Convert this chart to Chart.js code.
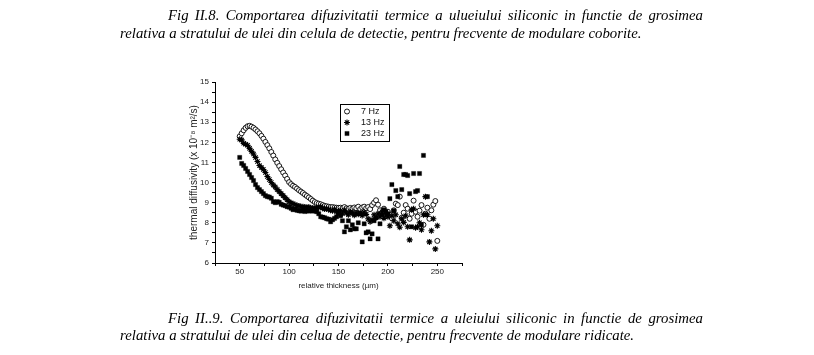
<!DOCTYPE html>
<html><head><meta charset="utf-8">
<script src="https://cdn.jsdelivr.net/npm/chart.js@4/dist/chart.umd.min.js"></script>
<style>
html,body{margin:0;padding:0;background:#fff;}
#wrap{position:relative;width:814px;height:355px;overflow:hidden;background:#fff;}
canvas{position:absolute;left:0;top:0;}
.cap{position:absolute;font-family:"Liberation Serif","DejaVu Serif",serif;font-style:italic;font-size:14.8px;color:#000;white-space:nowrap;line-height:16px;}
.j{text-align:justify;text-align-last:justify;white-space:normal;}
</style></head>
<body><div id="wrap">
<canvas id="c" width="814" height="355"></canvas>
<div class="cap j" id="c1a" style="left:168px;top:7px;width:535px"></div>
<div class="cap" id="c1b" style="left:120px;top:25px"></div>
<div class="cap j" id="c2a" style="left:168px;top:310px;width:535px"></div>
<div class="cap" id="c2b" style="left:120px;top:327px"></div>
</div>
<script>
const caption1 = ["Fig II.8. Comportarea difuzivitatii termice a ulueiului siliconic in functie de grosimea",
                  "relativa a stratului de ulei din celula de detectie, pentru frecvente de modulare coborite."];
const caption2 = ["Fig II..9. Comportarea difuzivitatii termice a uleiului siliconic in functie de grosimea",
                  "relativa a stratului de ulei din celua de detectie, pentru frecvente de modulare ridicate."];
const xTitle = "relative thickness (\u00b5m)";
const yTitle = "thermal diffusivity (x 10\u207b\u2078 m\u00b2/s)";
const seriesLabels = ["7 Hz", "13 Hz", "23 Hz"];

const xTicks = [25,50,75,100,125,150,175,200,225,250,275];
const xTickLabels = ["","50","","100","","150","","200","","250",""];
const yTicks = [6,6.5,7,7.5,8,8.5,9,9.5,10,10.5,11,11.5,12,12.5,13,13.5,14,14.5,15];
const yTickLabels = ["6","","7","","8","","9","","10","","11","","12","","13","","14","","15"];

const thickness = [50,52,54,56,58,60,62,64,66,68,70,72,74,76,78,80,82,84,86,88,
  90,92,94,96,98,100,102,104,106,108,110,112,114,116,118,120,122,124,126,128,
  130,132,134,136,138,140,142,144,146,148,150,152,154,156,158,160,162,164,166,168,
  170,172,174,176,178,180,182,184,186,188,190,192,194,196,198,200,202,204,206,208,
  210,212,214,216,218,220,222,224,226,228,230,232,234,236,238,240,242,244,246,248,250];

const hz7 = [12.30,12.45,12.60,12.72,12.80,12.82,12.78,12.72,12.64,12.55,
  12.45,12.32,12.18,12.02,11.86,11.70,11.52,11.34,11.15,10.98,
  10.82,10.66,10.50,10.35,10.18,10.02,9.92,9.84,9.78,9.70,
  9.62,9.55,9.48,9.40,9.33,9.26,9.18,9.10,9.03,8.98,
  8.95,8.92,8.88,8.84,8.82,8.80,8.78,8.78,8.76,8.75,
  8.74,8.75,8.72,8.78,8.72,8.70,8.74,8.70,8.76,8.72,
  8.80,8.68,8.76,8.80,8.72,8.78,8.68,8.88,9.00,9.12,
  8.90,8.62,8.48,8.70,8.35,8.55,8.40,8.22,8.62,8.95,
  8.88,9.30,8.25,8.50,8.88,8.70,8.20,8.45,9.10,8.55,
  8.30,8.60,8.88,7.90,8.45,8.75,8.20,8.62,8.90,9.08,
  7.10];

const hz13 = [12.15,12.12,11.95,11.90,11.85,11.70,11.55,11.42,11.25,11.05,
  10.85,10.75,10.65,10.50,10.30,10.15,10.00,9.88,9.78,9.65,
  9.55,9.45,9.35,9.25,9.15,9.05,8.98,8.95,8.90,8.86,
  8.84,8.80,8.80,8.78,8.76,8.78,8.74,8.74,8.72,8.74,
  8.76,8.80,8.72,8.68,8.70,8.66,8.62,8.60,8.66,8.55,
  8.58,8.60,8.45,8.62,8.50,8.40,8.55,8.48,8.38,8.50,
  8.42,8.48,8.36,8.52,8.42,8.20,8.05,8.15,8.40,8.25,
  8.45,8.30,8.55,8.22,8.40,8.30,7.85,8.35,8.10,8.40,
  7.95,7.78,8.20,8.02,8.35,7.80,7.15,8.65,8.70,7.75,
  7.80,8.00,7.65,8.40,9.30,8.40,7.05,7.60,8.20,6.70,
  7.85];

const hz23 = [11.25,10.95,10.85,10.70,10.55,10.40,10.25,10.10,9.90,9.75,
  9.65,9.55,9.45,9.35,9.30,9.28,9.22,9.05,9.00,9.05,
  9.02,8.92,8.88,8.85,8.80,8.78,8.72,8.65,8.68,8.62,
  8.60,8.58,8.62,8.56,8.60,8.58,8.62,8.58,8.60,8.55,
  8.45,8.30,8.28,8.25,8.20,8.18,8.05,8.15,8.22,8.30,
  8.45,8.35,8.10,7.55,7.80,8.10,7.65,7.90,7.70,7.70,
  8.00,8.45,7.05,7.95,7.50,7.55,7.20,7.45,8.10,8.25,
  7.20,7.95,8.40,8.65,8.55,8.45,9.20,9.90,8.60,9.60,
  9.30,10.80,9.65,10.40,10.40,10.35,9.45,7.80,10.45,9.55,
  9.60,10.45,7.90,11.35,8.40,9.30,null,null,null,null,
  null];

document.getElementById('c1a').textContent = caption1[0];
document.getElementById('c1b').textContent = caption1[1];
document.getElementById('c2a').textContent = caption2[0];
document.getElementById('c2b').textContent = caption2[1];

function pts(vals){ return thickness.map((x,i)=>({x:x,y:vals[i]})).filter(p=>p.y!==null); }

const boxLegend = {
  id:'boxLegend',
  afterDraw(chart, args, o){
    const ctx = chart.ctx;
    ctx.save();
    ctx.strokeStyle = '#000'; ctx.lineWidth = 1;
    ctx.strokeRect(o.x+0.5, o.y+0.5, o.w, o.h);
    chart.data.datasets.forEach((ds,i)=>{
      const y = o.y + o.rowTop + i*o.rowGap;
      ctx.fillStyle = ds.pointBackgroundColor;
      ctx.strokeStyle = ds.pointBorderColor;
      ctx.lineWidth = ds.pointBorderWidth;
      Chart.helpers.drawPoint(ctx, {pointStyle: ds.pointStyle, radius: ds.pointRadius, rotation:0, borderWidth: ds.pointBorderWidth}, o.x+o.markX, y);
      ctx.fillStyle = '#111';
      ctx.font = '9px Arial, "Liberation Sans", sans-serif';
      ctx.textBaseline = 'middle';
      ctx.textAlign = 'left';
      ctx.fillText(ds.label, o.x+o.textX, y);
    });
    ctx.restore();
  }
};

const tickFont = {family:'Arial, "Liberation Sans", sans-serif', size:8};

new Chart(document.getElementById('c'), {
  type:'scatter',
  data:{datasets:[
    {label:seriesLabels[0], data:pts(hz7), pointStyle:'circle', pointRadius:2.5, pointBorderWidth:0.9,
     pointBackgroundColor:'#fff', pointBorderColor:'#000', order:3},
    {label:seriesLabels[1], data:pts(hz13), pointStyle:'star', pointRadius:3, pointBorderWidth:1.1,
     pointBackgroundColor:'#000', pointBorderColor:'#000', order:2},
    {label:seriesLabels[2], data:pts(hz23), pointStyle:'rect', pointRadius:3, pointBorderWidth:0.3,
     pointBackgroundColor:'#000', pointBorderColor:'#000', order:1}
  ]},
  options:{
    responsive:false, animation:false, devicePixelRatio:1,
    layout:{padding:{left:188, right:352, top:82, bottom:64}},
    plugins:{legend:{display:false}, tooltip:{enabled:false},
      boxLegend:{x:340, y:104, w:49, h:37, markX:7, textX:21, rowTop:7.5, rowGap:11}},
    scales:{
      x:{type:'linear', min:25, max:275,
        afterBuildTicks:s=>{ s.ticks = xTicks.map(v=>({value:v})); },
        afterFit:s=>{ s.height = 28; },
        ticks:{autoSkip:false, maxRotation:0, padding:1, color:'#222', font:tickFont,
          callback:(v,i)=>xTickLabels[i]},
        grid:{drawOnChartArea:false, drawTicks:true, tickLength:3, color:'#000', lineWidth:1},
        border:{display:true, color:'#000', width:1},
        title:{display:true, text:xTitle, color:'#222', padding:0,
          font:{family:'Arial, "Liberation Sans", sans-serif', size:8}}
      },
      y:{type:'linear', min:6, max:15,
        afterBuildTicks:s=>{ s.ticks = yTicks.map(v=>({value:v})); },
        afterFit:s=>{ s.width = 27; },
        ticks:{autoSkip:false, padding:3, color:'#222', font:tickFont,
          callback:(v,i)=>yTickLabels[i]},
        grid:{drawOnChartArea:false, drawTicks:true, tickLength:3, color:'#000', lineWidth:1},
        border:{display:true, color:'#000', width:1},
        title:{display:true, text:yTitle, color:'#222', padding:0,
          font:{family:'Arial, "Liberation Sans", sans-serif', size:10}}
      }
    }
  },
  plugins:[boxLegend]
});
</script>
</body></html>
